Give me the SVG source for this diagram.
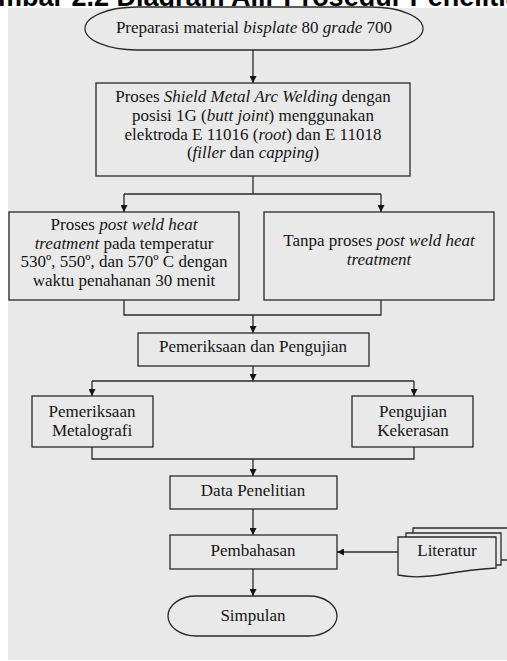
<svg xmlns="http://www.w3.org/2000/svg" width="507" height="661" viewBox="0 0 507 661">
<defs>
<style>
.t{font-family:"Liberation Serif","Times New Roman",serif;font-size:17px;fill:#151515;text-anchor:middle}
.i{font-style:italic}
.n{fill:#e9e9e9;stroke:#2a2a2a;stroke-width:1.3}
.c{fill:none;stroke:#2a2a2a;stroke-width:1.3}
</style>
<marker id="ah" viewBox="0 0 8 8" refX="8" refY="4" markerWidth="7" markerHeight="7" markerUnits="userSpaceOnUse" orient="auto">
<path d="M0,0 L8,4 L0,8 z" fill="#151515"/>
</marker>
</defs>
<rect x="0" y="0" width="507" height="661" fill="#ffffff"/>
<text x="-2" y="6" font-family="Liberation Sans, Arial, sans-serif" font-weight="bold" font-size="27" fill="#000">mbar 2.2 Diagram Alir Prosedur Penelitian</text>
<rect x="8" y="8" width="499" height="652" fill="#e9e9e9"/>

<g id="connectors">
<line class="c" x1="253" y1="50" x2="253" y2="83" marker-end="url(#ah)"/>
<polyline class="c" points="253,176 253,194"/>
<polyline class="c" points="124,194 381,194"/>
<line class="c" x1="124" y1="194" x2="124" y2="212" marker-end="url(#ah)"/>
<line class="c" x1="381" y1="194" x2="381" y2="212" marker-end="url(#ah)"/>
<polyline class="c" points="124,300 124,315 381,315 381,300"/>
<line class="c" x1="253" y1="315" x2="253" y2="333" marker-end="url(#ah)"/>
<line class="c" x1="253" y1="366" x2="253" y2="381" marker-end="url(#ah)"/>
<polyline class="c" points="92,381 414,381"/>
<line class="c" x1="92" y1="381" x2="92" y2="396" marker-end="url(#ah)"/>
<line class="c" x1="414" y1="381" x2="414" y2="396" marker-end="url(#ah)"/>
<polyline class="c" points="92,447 92,459 414,459 414,447"/>
<line class="c" x1="253" y1="459" x2="253" y2="476" marker-end="url(#ah)"/>
<line class="c" x1="253" y1="509" x2="253" y2="535" marker-end="url(#ah)"/>
<line class="c" x1="253" y1="569" x2="253" y2="596" marker-end="url(#ah)"/>
<line class="c" x1="398" y1="552" x2="337" y2="552" marker-end="url(#ah)"/>
</g>

<g id="n-preparasi">
<rect class="n" x="85" y="7" width="338" height="43" rx="52" ry="21.5"/>
<text class="t" x="254" y="33">Preparasi material <tspan class="i">bisplate</tspan> 80 <tspan class="i">grade</tspan> 700</text>
</g>

<g id="n-smaw">
<rect class="n" x="96" y="83" width="314" height="93"/>
<text class="t" x="253" y="102">Proses <tspan class="i">Shield Metal Arc Welding</tspan> dengan</text>
<text class="t" x="253" y="121">posisi 1G (<tspan class="i">butt joint</tspan>) menggunakan</text>
<text class="t" x="253" y="140">elektroda E 11016 (<tspan class="i">root</tspan>) dan E 11018</text>
<text class="t" x="253" y="158">(<tspan class="i">filler</tspan> dan <tspan class="i">capping</tspan>)</text>
</g>

<g id="n-pwht">
<rect class="n" x="9" y="212" width="230" height="88"/>
<text class="t" x="124" y="230">Proses <tspan class="i">post weld heat</tspan></text>
<text class="t" x="124" y="249"><tspan class="i">treatment</tspan> pada temperatur</text>
<text class="t" x="124" y="267">530º, 550º, dan 570º C dengan</text>
<text class="t" x="124" y="286">waktu penahanan 30 menit</text>
</g>

<g id="n-tanpa">
<rect class="n" x="264" y="212" width="230" height="88"/>
<text class="t" x="379" y="246">Tanpa proses <tspan class="i">post weld heat</tspan></text>
<text class="t" x="379" y="265"><tspan class="i">treatment</tspan></text>
</g>

<g id="n-pemeriksaan">
<rect class="n" x="138" y="333" width="231" height="33"/>
<text class="t" x="253" y="352">Pemeriksaan dan Pengujian</text>
</g>

<g id="n-metalografi">
<rect class="n" x="32" y="396" width="121" height="51"/>
<text class="t" x="92" y="417">Pemeriksaan</text>
<text class="t" x="92" y="436">Metalografi</text>
</g>

<g id="n-kekerasan">
<rect class="n" x="352" y="396" width="121" height="51"/>
<text class="t" x="413" y="417">Pengujian</text>
<text class="t" x="413" y="436">Kekerasan</text>
</g>

<g id="n-data">
<rect class="n" x="170" y="476" width="167" height="33"/>
<text class="t" x="253" y="496">Data Penelitian</text>
</g>

<g id="n-pembahasan">
<rect class="n" x="170" y="535" width="167" height="34"/>
<text class="t" x="253" y="556">Pembahasan</text>
</g>

<g id="n-literatur">
<path class="n" d="M413,528 H508 V560 H413 Z"/>
<path class="n" d="M406,533 H501 V565 H406 Z"/>
<path class="n" d="M398,537 H496 V568 C478,569 462,571 445,574 C428,577 412,578 398,575 Z"/>
<text class="t" x="447" y="556">Literatur</text>
</g>

<g id="n-simpulan">
<rect class="n" x="168" y="596" width="169" height="40" rx="28" ry="20"/>
<text class="t" x="253" y="621">Simpulan</text>
</g>
</svg>
